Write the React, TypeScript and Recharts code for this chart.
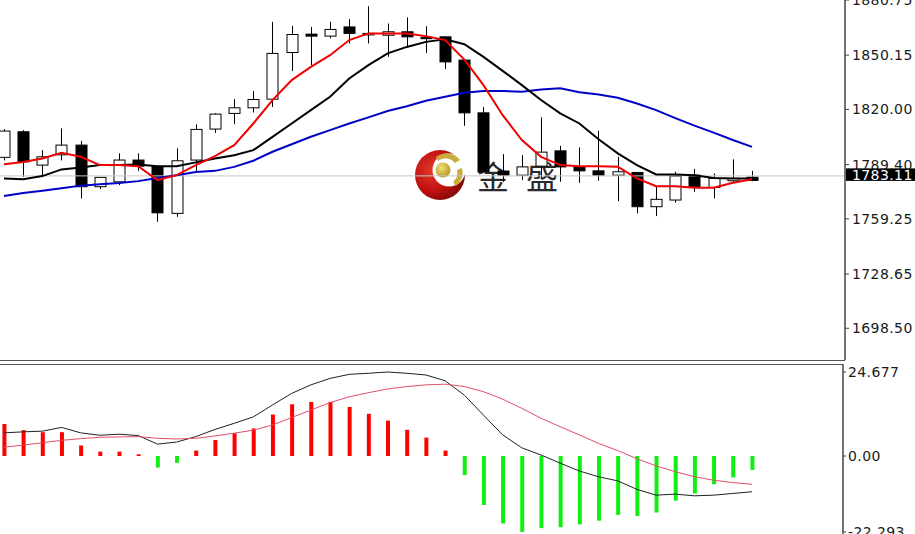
import React from 'react';
import { ComposedChart, Bar, Line, XAxis, YAxis, ReferenceLine, Cell } from 'recharts';

// ---------- data ----------
const opens = [1793.4, 1807.6, 1789.1, 1794.8, 1800.2, 1777.1, 1779.8, 1791.9, 1788.2, 1762.3,
  1791.9, 1809.1, 1817.8, 1820.9, 1825.7, 1851.6, 1861.8, 1860.7, 1865.8, 1861.6,
  1861.2, 1863.1, 1860.1, 1860.3, 1847.4, 1818.1, 1785.8, 1783.5, 1788.5, 1797.0,
  1788.1, 1785.9, 1783.5, 1785.0, 1766.0, 1769.7, 1783.5, 1776.7, 1780.4, 1782.4];
const highs = [1809.1, 1808.5, 1797.4, 1809.5, 1802.6, 1782.5, 1795.6, 1795.6, 1788.5, 1798.4,
  1811.7, 1817.9, 1825.7, 1830.2, 1868.6, 1866.4, 1865.8, 1868.6, 1870.1, 1877.3,
  1867.7, 1871.1, 1866.2, 1860.5, 1847.4, 1821.4, 1795.2, 1794.6, 1815.6, 1799.8,
  1798.9, 1808.1, 1793.7, 1785.0, 1777.4, 1785.4, 1786.9, 1784.5, 1792.3, 1785.9];
const lows = [1791.7, 1782.6, 1783.5, 1791.7, 1770.6, 1775.8, 1778.0, 1785.9, 1757.6, 1760.4,
  1784.8, 1807.0, 1811.8, 1818.3, 1821.4, 1841.3, 1844.6, 1859.4, 1856.6, 1856.6,
  1849.2, 1854.7, 1851.4, 1842.4, 1810.9, 1785.0, 1779.7, 1780.8, 1781.9, 1779.8,
  1779.3, 1780.4, 1769.1, 1762.3, 1760.8, 1768.2, 1774.3, 1770.6, 1779.9, 1780.2];
const closes = [1808.0, 1790.9, 1793.7, 1800.2, 1777.1, 1782.3, 1791.9, 1788.5, 1762.6, 1791.5,
  1808.9, 1817.4, 1820.9, 1825.5, 1851.1, 1861.6, 1860.7, 1864.4, 1862.2, 1862.2,
  1863.1, 1860.3, 1859.8, 1846.4, 1818.1, 1785.4, 1783.5, 1788.1, 1796.3, 1788.1,
  1785.9, 1783.5, 1785.4, 1766.0, 1770.1, 1783.0, 1776.7, 1781.7, 1781.7, 1780.6];

const maRed = [1789.6, 1790.8, 1792.8, 1795.9, 1793.7, 1789.1, 1789.1, 1788.5, 1780.8, 1783.5,
  1789.1, 1794.1, 1800.2, 1812.2, 1825.2, 1836.3, 1843.6, 1850.1, 1858.5, 1862.2,
  1862.2, 1862.2, 1860.7, 1858.5, 1847.7, 1833.5, 1816.8, 1803.0, 1793.7, 1789.1,
  1788.5, 1788.5, 1788.2, 1781.7, 1777.4, 1777.4, 1776.5, 1776.5, 1779.3, 1781.3];
const maBlack = [1781.7, 1781.3, 1783.0, 1786.7, 1787.8, 1789.1, 1789.1, 1789.4, 1788.5, 1788.5,
  1790.6, 1792.8, 1794.6, 1797.4, 1804.8, 1812.2, 1819.6, 1827.0, 1837.2, 1844.6,
  1851.1, 1854.7, 1857.5, 1859.0, 1856.2, 1849.2, 1841.4, 1833.5, 1825.2, 1817.8,
  1812.2, 1803.4, 1795.6, 1789.1, 1783.9, 1783.9, 1783.5, 1782.0, 1781.7, 1781.7];
const maBlue = [1771.9, 1773.6, 1774.9, 1776.3, 1777.7, 1778.5, 1779.1, 1780.2, 1781.9, 1783.5,
  1785.2, 1785.9, 1788.1, 1791.5, 1796.5, 1800.7, 1804.8, 1808.5, 1812.2, 1815.6,
  1819.1, 1821.8, 1824.8, 1827.0, 1829.2, 1830.2, 1830.2, 1829.8, 1831.1, 1831.7,
  1829.6, 1828.3, 1826.5, 1823.3, 1819.6, 1815.2, 1811.0, 1807.1, 1803.0, 1799.2];

const macdHist = [9.4, 7.6, 7.0, 7.0, 3.1, 1.3, 1.3, 0.5, -3.4, -2.0,
  1.6, 4.7, 6.7, 8.1, 12.2, 15.2, 15.9, 15.9, 14.4, 12.4,
  10.4, 7.7, 5.4, 1.6, -5.6, -14.4, -19.8, -22.29, -21.2, -20.9,
  -20.1, -19.0, -17.3, -17.6, -16.6, -13.1, -11.0, -8.3, -6.3, -4.1];
const macdLine = [6.8, 7.1, 7.3, 8.4, 6.8, 6.1, 6.4, 6.0, 3.5, 4.1,
  5.7, 7.8, 9.6, 11.5, 15.0, 18.4, 20.9, 22.8, 24.0, 24.3,
  24.68, 24.3, 23.8, 22.1, 17.9, 12.0, 6.2, 2.4, 0.3, -2.1,
  -4.4, -6.1, -7.3, -9.8, -11.5, -11.2, -11.7, -11.5, -11.0, -10.5];
const signalLine = [2.6, 3.2, 3.9, 4.6, 5.1, 5.5, 5.6, 5.7, 5.2, 5.0,
  5.2, 5.9, 6.7, 7.6, 9.1, 11.3, 13.5, 15.7, 17.4, 18.6,
  19.7, 20.4, 20.9, 21.1, 20.4, 18.9, 16.7, 14.0, 11.1, 8.6,
  6.2, 3.7, 1.6, -0.8, -2.9, -4.6, -6.1, -7.1, -7.8, -8.3];

const priceTicks = [1880.75, 1850.15, 1820.0, 1789.4, 1759.25, 1728.65, 1698.5];
const macdTicks = [24.677, 0, -22.293];
const macdTickLabels = ['24.677', '0.00', '-22.293'];
const lastPrice = 1783.11;

// ---------- layout ----------
const W = 915;
const STEP = 19.18;
const X0 = 4;
const MAIN_PLOT_W = 845;
const MACD_PLOT_W = 843;
const MAIN_H = 360;
const MACD_TOP = 364;
const MACD_H = 170;
const FONT = '"DejaVu Sans", Verdana, sans-serif';

const mainData = opens.map((o, i) => ({
  i, o, h: highs[i], l: lows[i], c: closes[i],
  red: maRed[i], black: maBlack[i], blue: maBlue[i],
}));
const macdData = macdHist.map((hv, i) => ({ i, hist: hv, macd: macdLine[i], signal: signalLine[i] }));

const Candle = (props: any) => {
  const { x, y, width, height, payload } = props;
  if (!payload || x == null) return null;
  const { o, h, l, c } = payload;
  const cx = Math.round(x + width / 2) + 0.5;
  const top = Math.min(y, y + height);
  const hgt = Math.abs(height);
  const py = (v: number) => (h === l ? top : top + ((h - v) / (h - l)) * hgt);
  const bull = c >= o;
  const bTop = py(Math.max(o, c));
  const bBot = py(Math.min(o, c));
  return (
    <g>
      <line x1={cx} x2={cx} y1={top} y2={top + hgt} stroke="#000" strokeWidth={1} />
      <rect x={cx - 5.5} y={bTop} width={11} height={Math.max(bBot - bTop, 1.5)}
        fill={bull ? '#fff' : '#000'} stroke="#000" strokeWidth={1} />
    </g>
  );
};

const PriceTag = (props: any) => {
  const vb = props.viewBox || {};
  const yy = vb.y ?? 0;
  const xr = (vb.x ?? 0) + (vb.width ?? MAIN_PLOT_W);
  return (
    <g>
      <rect x={xr + 1} y={yy - 7.5} width={W - xr} height={12.5} fill="#000" />
      <text x={xr + 7} y={yy - 1} fill="#fff" fontSize={14} fontFamily={FONT}
        dominantBaseline="central" letterSpacing={0.4}>{lastPrice.toFixed(2)}</text>
    </g>
  );
};

const Logo = () => (
  <svg width={W} height={534} style={{ position: 'absolute', left: 0, top: 0 }}>
    <defs>
      <radialGradient id="rg" cx="35%" cy="40%" r="70%">
        <stop offset="0%" stopColor="#e23a2a" />
        <stop offset="60%" stopColor="#c01010" />
        <stop offset="100%" stopColor="#7a0808" />
      </radialGradient>
      <radialGradient id="gg" cx="40%" cy="35%" r="70%">
        <stop offset="0%" stopColor="#f2e27a" />
        <stop offset="100%" stopColor="#b39418" />
      </radialGradient>
    </defs>
    <circle cx={440} cy={175} r={25} fill="url(#rg)" />
    <circle cx={449} cy={170} r={16.5} fill="#fff" />
    <path d="M436 157 A17 17 0 0 1 460 160 L455 163 A12 12 0 0 0 438 161 Z" fill="#c9ad3a" />
    <path d="M462 168 A17 17 0 0 1 456 186 L453 182 A12 12 0 0 0 457 170 Z" fill="#c9ad3a" />
    <circle cx={443} cy={170} r={7.5} fill="url(#gg)" />
    <text x={477} y={189} fontSize={32} fontFamily='"Noto Sans CJK SC", sans-serif'
      fill="#2a2a2a" letterSpacing={17}>金盛</text>
  </svg>
);

export default function App() {
  return (
    <div style={{ position: 'fixed', left: 0, top: 0, width: W, height: 534, background: '#fff', overflow: 'hidden' }}>
      <Logo />
      <div style={{ position: 'absolute', left: 0, top: 0 }}>
        <ComposedChart width={W} height={MAIN_H} data={mainData} margin={{ top: 0, right: 0, bottom: 0, left: 0 }}>
          <XAxis type="number" dataKey="i" hide allowDataOverflow
            domain={[-X0 / STEP, (MAIN_PLOT_W - X0) / STEP]} />
          <YAxis orientation="right" width={W - MAIN_PLOT_W} domain={[1680.9, 1880.75]} allowDataOverflow
            ticks={priceTicks} interval={0} tickFormatter={(v: number) => v.toFixed(2)}
            axisLine={{ stroke: '#444', strokeWidth: 1.5 }} tickLine={{ stroke: '#444' }}
            tickSize={4} tickMargin={3}
            tick={{ fill: '#1a1a1a', fontSize: 14, fontFamily: FONT, letterSpacing: 0.4 }} />
          <ReferenceLine y={lastPrice} stroke="#c8c8c8" strokeWidth={1} label={<PriceTag />} />
          <Bar dataKey={(d: any) => [d.l, d.h]} barSize={11} shape={<Candle />} activeBar={false} isAnimationActive={false} />
          <Line dataKey="blue" stroke="#0000c8" strokeWidth={2} dot={false} activeDot={false} isAnimationActive={false} type="linear" />
          <Line dataKey="black" stroke="#000" strokeWidth={2} dot={false} activeDot={false} isAnimationActive={false} type="linear" />
          <Line dataKey="red" stroke="#f00000" strokeWidth={2} dot={false} activeDot={false} isAnimationActive={false} type="linear" />
        </ComposedChart>
      </div>
      <div style={{ position: 'absolute', left: 0, top: MACD_TOP }}>
        <ComposedChart width={W} height={MACD_H} data={macdData} margin={{ top: 0, right: 0, bottom: 0, left: 0 }}>
          <XAxis type="number" dataKey="i" hide allowDataOverflow
            domain={[-X0 / STEP, (MACD_PLOT_W - X0) / STEP]} />
          <YAxis orientation="right" width={W - MACD_PLOT_W} domain={[-22.91, 27.03]} allowDataOverflow
            ticks={macdTicks} interval={0}
            tickFormatter={(v: number) => macdTickLabels[macdTicks.indexOf(v)] ?? String(v)}
            axisLine={{ stroke: '#444', strokeWidth: 1.5 }} tickLine={{ stroke: '#444' }}
            tickSize={3} tickMargin={2}
            tick={{ fill: '#1a1a1a', fontSize: 14, fontFamily: FONT, letterSpacing: 0.4 }} />
          <Bar dataKey="hist" barSize={4} activeBar={false} isAnimationActive={false}>
            {macdData.map((d, k) => (
              <Cell key={k} fill={d.hist >= 0 ? '#ff0000' : '#11ee11'} />
            ))}
          </Bar>
          <Line dataKey="macd" stroke="#222" strokeWidth={1} dot={false} activeDot={false} isAnimationActive={false} type="linear" />
          <Line dataKey="signal" stroke="#e0506a" strokeWidth={1} dot={false} activeDot={false} isAnimationActive={false} type="linear" />
        </ComposedChart>
      </div>
      <svg width={W} height={534} style={{ position: 'absolute', left: 0, top: 0, pointerEvents: 'none' }}>
        <line x1={0} x2={MAIN_PLOT_W} y1={360.5} y2={360.5} stroke="#555" strokeWidth={1.2} />
        <line x1={0} x2={MACD_PLOT_W} y1={364.5} y2={364.5} stroke="#555" strokeWidth={1.2} />
      </svg>
    </div>
  );
}
